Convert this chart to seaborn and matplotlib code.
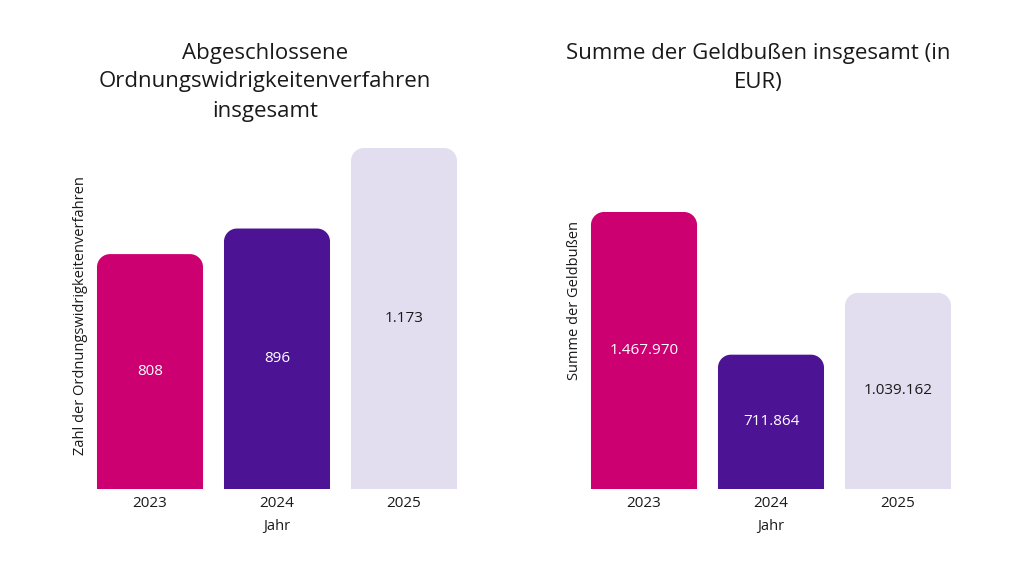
import matplotlib
matplotlib.use("Agg")
import matplotlib.pyplot as plt
from matplotlib.patches import PathPatch
from matplotlib.path import Path
import pandas as pd
import seaborn as sns

# ---- Daten ----
jahre = ["2023", "2024", "2025"]
verfahren = [808, 896, 1173]
geldbussen = [1467970, 711864, 1039162]

farben = ["#CC0070", "#4C1394", "#E3DDF0"]
text_farben = ["white", "white", "#1a1a1a"]

sns.set_theme(style="white")
plt.rcParams["font.family"] = ["Open Sans", "DejaVu Sans"]

fig = plt.figure(figsize=(10.24, 5.76), dpi=100)
W, H = 1024, 576


def fmt_de(v):
    return f"{v:,}".replace(",", ".")


def runde_balken(ax, radius_px=13):
    # Balken durch Pfade mit abgerundeten oberen Ecken ersetzen
    fig.canvas.draw()
    x0, x1 = ax.get_xlim()
    y0, y1 = ax.get_ylim()
    bbox = ax.get_window_extent()
    rx = radius_px * (x1 - x0) / bbox.width
    ry = radius_px * (y1 - y0) / bbox.height
    k = 0.5523
    for p in list(ax.patches):
        x, w, h = p.get_x(), p.get_width(), p.get_height()
        fc = p.get_facecolor()
        p.set_visible(False)
        verts = [
            (x, 0), (x, h - ry),
            (x, h - ry + k * ry), (x + rx - k * rx, h), (x + rx, h),
            (x + w - rx, h),
            (x + w - rx + k * rx, h), (x + w, h - ry + k * ry), (x + w, h - ry),
            (x + w, 0), (x, 0),
        ]
        codes = [Path.MOVETO, Path.LINETO,
                 Path.CURVE4, Path.CURVE4, Path.CURVE4,
                 Path.LINETO,
                 Path.CURVE4, Path.CURVE4, Path.CURVE4,
                 Path.LINETO, Path.CLOSEPOLY]
        ax.add_patch(PathPatch(Path(verts, codes), facecolor=fc,
                               edgecolor="none", linewidth=0, zorder=1))


def panel(rect, werte, ylabel, ylab_y):
    ax = fig.add_axes(rect)
    df = pd.DataFrame({"Jahr": jahre, "Wert": werte})
    sns.barplot(data=df, x="Jahr", y="Wert", hue="Jahr", palette=farben,
                width=0.835, legend=False, ax=ax, saturation=1)
    ax.set_xlim(-0.5, 2.5)
    ax.set_ylim(0, max(werte))
    sns.despine(ax=ax, left=True, bottom=True)
    ax.set_yticks([])
    ax.tick_params(axis="x", length=0, labelsize=11, pad=5, colors="#1a1a1a")
    ax.set_xlabel("Jahr", fontsize=10.5, labelpad=6, color="#1a1a1a")
    ax.set_ylabel(ylabel, fontsize=10.5, color="#1a1a1a")
    ax.yaxis.set_label_coords(0.004, ylab_y)
    for i, v in enumerate(werte):
        ax.text(i, v / 2, fmt_de(v), ha="center", va="center",
                fontsize=11, color=text_farben[i], zorder=3)
    runde_balken(ax)
    return ax


ax1 = panel([86.5 / W, 87 / H, 381 / W, 341 / H], verfahren,
            "Zahl der Ordnungswidrigkeitenverfahren", 0.51)
ax2 = panel([580.5 / W, 87 / H, 381 / W, 277 / H], geldbussen,
            "Summe der Geldbußen", 0.68)

# Titel
fig.text(265 / W, 1 - 82 / H,
         "Abgeschlossene\nOrdnungswidrigkeitenverfahren\ninsgesamt",
         ha="center", va="center", fontsize=16, linespacing=1.5,
         color="#1a1a1a")
fig.text(758 / W, 1 - 68 / H, "Summe der Geldbußen insgesamt (in\nEUR)",
         ha="center", va="center", fontsize=16, linespacing=1.5,
         color="#1a1a1a")

fig.savefig("out.png", dpi=100)
